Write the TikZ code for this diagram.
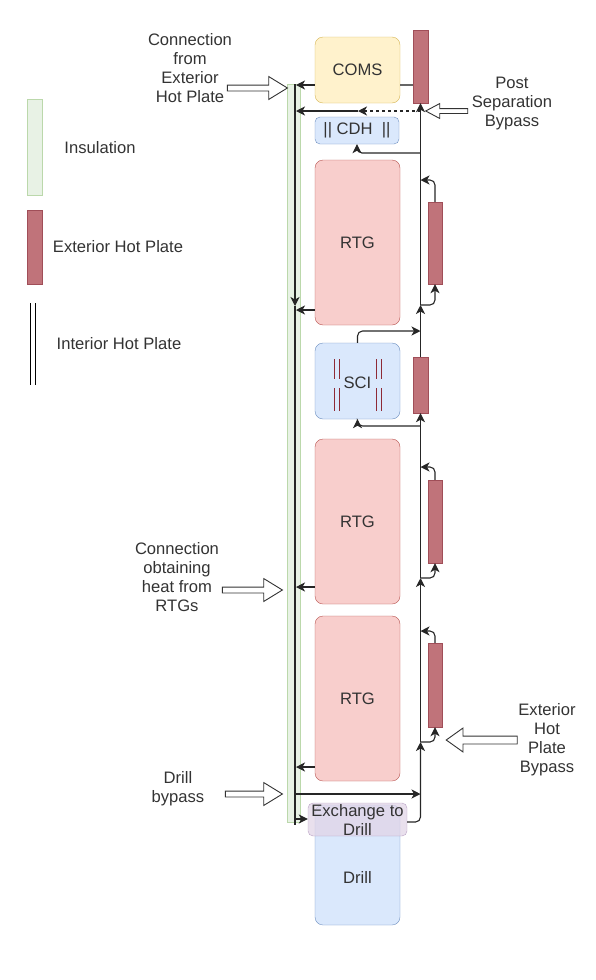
\documentclass[tikz,border=0pt]{standalone}
\usepackage{fontspec}
\setmainfont{Liberation Sans}
\usetikzlibrary{arrows.meta,shapes.arrows}

\definecolor{rtgfill}{HTML}{F8CECC}
\definecolor{rtgline}{HTML}{B85450}
\definecolor{comsfill}{HTML}{FFF2CC}
\definecolor{comsline}{HTML}{D6B656}
\definecolor{bluefill}{HTML}{DAE8FC}
\definecolor{blueline}{HTML}{6C8EBF}
\definecolor{xfill}{HTML}{E1D5E7}
\definecolor{xline}{HTML}{9673A6}
\definecolor{insfill}{HTML}{E8F2E5}
\definecolor{insline}{HTML}{BBD8AB}
\definecolor{platefill}{HTML}{C0737A}
\definecolor{plateline}{HTML}{A04E58}
\definecolor{sciline}{HTML}{8E2A36}
\definecolor{txt}{HTML}{333333}

\begin{document}
\begin{tikzpicture}[
    x=1pt, y=-1pt,
    font=\fontsize{16.6}{19}\selectfont,
    box/.style={draw, rounded corners=8pt, align=center, inner sep=0pt, text=txt, minimum width=85pt},
    rtg/.style={box, fill=rtgfill, draw=rtgline, minimum height=165pt},
    bluebox/.style={box, fill=bluefill, draw=blueline},
    plate/.style={draw=plateline, fill=platefill, inner sep=0pt},
    insul/.style={draw=insline, fill=insfill, inner sep=0pt},
    lbl/.style={align=center, text=txt, inner sep=0pt},
    hollow/.style={draw=txt, fill=white, single arrow, inner xsep=0pt, inner ysep=2.5pt,
        single arrow head extend=8.5pt, single arrow tip angle=63, line width=0.9pt},
    wire/.style={draw=black!85, line width=1.1pt},
    flow/.style={wire, -{Stealth[length=9pt,width=9pt,inset=2.5pt]}},
    rc/.style={rounded corners=5pt}
  ]
    \useasboundingbox (0,0) rectangle (596,980);

    % legend
    \node[insul, minimum width=15pt, minimum height=96pt] (legIns) at (34.5,147) {};
    \node[lbl] (legInsTxt) at (100,148) {Insulation};
    \node[plate, minimum width=15pt, minimum height=74pt] (legHp) at (34.5,247) {};
    \node[lbl] (legHpTxt) at (118,247) {Exterior Hot Plate};
    \draw[black, line width=1.1pt, double, double distance=4.5pt] (33,303) -- (33,385);
    \node[lbl] (legIhpTxt) at (119,344) {Interior Hot Plate};

    % insulation along the pipe
    \node[insul, minimum width=13pt, minimum height=738pt] (ins) at (293.5,453) {};

    % modules
    \node[box, fill=comsfill, draw=comsline, minimum height=66pt] (coms) at (357.5,70) {COMS};
    \node[bluebox, rounded corners=5pt, minimum width=84pt, minimum height=27pt] (cdh) at (357,130.5) {|| CDH \ ||};
    \node[rtg] (rtgA) at (357.5,242.5) {RTG};
    \node[bluebox, minimum height=76pt, text height=16pt] (sci) at (357.5,381) {SCI};
    \node[rtg] (rtgB) at (357.5,521.5) {RTG};
    \node[rtg] (rtgC) at (357.5,698.5) {RTG};
    \node[bluebox, minimum height=120pt, text height=36pt] (drill) at (357.5,865) {Drill};
    \node[box, rounded corners=5pt, fill=xfill, draw=xline, fill opacity=0.75, draw opacity=0.6,
        text opacity=1, minimum width=99pt, minimum height=33pt] (xchg) at (357.5,819.5) {Exchange to\\Drill};

    \foreach \x in {334,339,376,381}
      \draw[sciline, line width=1pt] (\x,359) -- (\x,379) (\x,388) -- (\x,411);

    % exterior hot plates
    \node[plate, minimum width=15pt, minimum height=73pt] (hpComs) at (420.5,66.5) {};
    \node[plate, minimum width=14pt, minimum height=82pt] (hpA) at (435,243) {};
    \node[plate, minimum width=15pt, minimum height=56pt] (hpSci) at (420.5,385) {};
    \node[plate, minimum width=14pt, minimum height=83pt] (hpB) at (435,521.5) {};
    \node[plate, minimum width=14pt, minimum height=84pt] (hpC) at (435,685) {};

    % pipe points
    \coordinate (pTop) at (295,84);
    \coordinate (pComs) at (296,85);
    \coordinate (pCdh) at (296,111);
    \coordinate (pDown) at (295,306);
    \coordinate (pA) at (296,310);
    \coordinate (pB) at (296,587);
    \coordinate (pC) at (296,767);
    \coordinate (pBy) at (295,794);
    \coordinate (pX) at (295,819);
    \coordinate (pEnd) at (295,825);

    % column points
    \coordinate (cX) at (420.5,822);
    \coordinate (c1) at (420.5,742);
    \coordinate (cC) at (420.5,631);
    \coordinate (c2) at (420.5,578);
    \coordinate (cB) at (420.5,467);
    \coordinate (cSciIn) at (420.5,426);
    \coordinate (cSciOut) at (420.5,331);
    \coordinate (c3) at (420.5,305);
    \coordinate (cA) at (420.5,180);
    \coordinate (cCdh) at (420.5,153);
    \coordinate (cDash) at (420.5,111);
    \coordinate (dashEnd) at (358,111);
    \coordinate (cBy) at (420.5,794);

    % pipe side
    \draw[flow] (pTop) -- (pDown);
    \draw[wire] (pDown) -- (pEnd);
    \draw[flow] (coms.west |- pComs) -- (pComs);
    \draw[wire, black!60] (coms.east |- pComs) -- (hpComs.west |- pComs);
    \draw[flow, dashed] (cDash) -- (dashEnd);
    \draw[flow] (dashEnd) -- (pCdh);
    \draw[flow] (rtgA.west |- pA) -- (pA);
    \draw[flow] (rtgB.west |- pB) -- (pB);
    \draw[flow] (rtgC.west |- pC) -- (pC);
    \draw[flow] (pBy) -- (cBy);
    \draw[flow] (pX) -- (xchg.west |- pX);

    % column side
    \draw[flow, rc] (xchg.east |- cX) -- (cX) -- (c1);
    \draw[flow, rc] (c1) -| (hpC.south);
    \draw[flow, rc] (hpC.north) |- (cC);
    \draw[flow] (c1) -- (c2);
    \draw[flow, rc] (c2) -| (hpB.south);
    \draw[flow, rc] (hpB.north) |- (cB);
    \draw[flow] (c2) -- (hpSci.south);
    \draw[flow, rc] (cSciIn) -| (sci.south);
    \draw[flow, rc] (sci.north) |- (cSciOut);
    \draw[flow] (hpSci.north) -- (c3);
    \draw[flow, rc] (c3) -| (hpA.south);
    \draw[flow, rc] (hpA.north) |- (cA);
    \draw[flow] (c3) -- (hpComs.south);
    \draw[flow, rc] (cCdh) -| (cdh.south);

    % notes
    \node[lbl] (lblExt) at (190,68.5) {Connection\\from\\Exterior\\Hot Plate};
    \node[hollow, minimum height=60pt] (arrExt) at (255,88) {};
    \node[lbl] (lblPost) at (512,104) {Post\\Separation\\Bypass};
    \node[hollow, minimum height=42pt, shape border rotate=180, inner ysep=2pt,
        single arrow head extend=5pt, single arrow tip angle=56] (arrPost) at (449,111) {};
    \node[lbl] (lblRtg) at (177,577.5) {Connection\\obtaining\\heat from\\RTGs};
    \node[hollow, minimum height=60pt] (arrRtg) at (250,590) {};
    \node[lbl] (lblDrill) at (178,789) {Drill\\bypass};
    \node[hollow, minimum height=57pt] (arrDrill) at (251.5,794) {};
    \node[lbl] (lblBypass) at (547,740) {Exterior\\Hot\\Plate\\Bypass};
    \node[hollow, minimum height=71pt, shape border rotate=180, inner ysep=3.5pt,
        single arrow head extend=8pt, single arrow tip angle=71] (arrBypass) at (484.5,740) {};
\end{tikzpicture}
\end{document}
